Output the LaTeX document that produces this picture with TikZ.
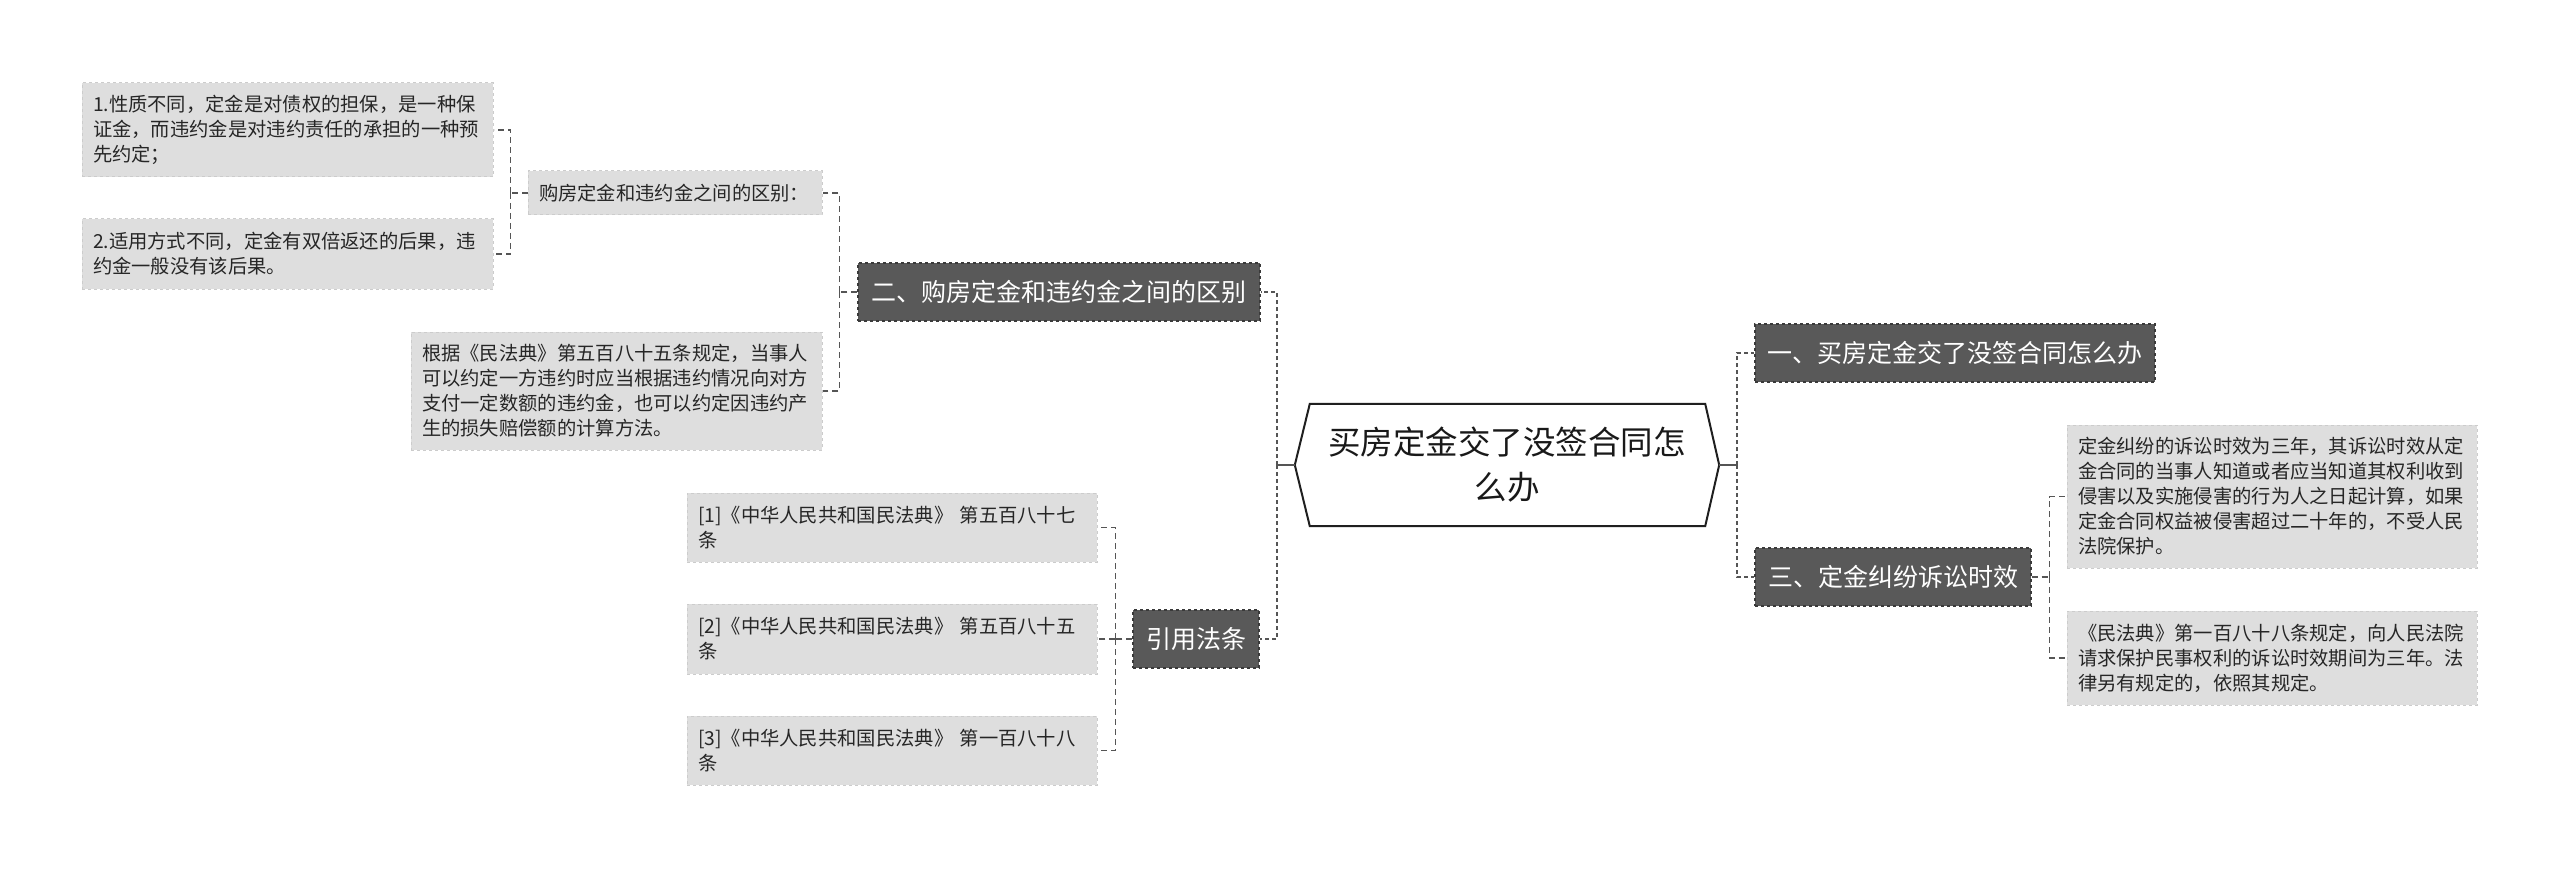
\documentclass[tikz,border=0pt]{standalone}
\usepackage{fontspec}
\setmainfont{Noto Sans CJK SC}
\usetikzlibrary{calc}
\definecolor{darkbox}{HTML}{595959}
\definecolor{darkedge}{HTML}{3A3A3A}
\definecolor{leaffill}{HTML}{DEDEDE}
\definecolor{leafedge}{HTML}{CCCCCC}
\definecolor{conncol}{HTML}{555555}
\definecolor{txt}{HTML}{262626}
\begin{document}
\begin{tikzpicture}[x=1pt,y=-1pt,
  branch/.style={draw=darkedge, dashed, line width=1.2pt, fill=darkbox, text=white,
    font=\fontsize{25}{30}\selectfont, minimum height=58pt, inner sep=0pt},
  leaf/.style={draw=leafedge, dashed, line width=1pt, fill=leaffill, text=txt,
    font=\fontsize{19.3}{25}\selectfont, align=left, inner xsep=11pt, inner ysep=0pt,
    text width=389pt},
  conn/.style={draw=conncol, line width=1.5pt, dash pattern=on 6pt off 4pt},
  mainconn/.style={draw=conncol, line width=2.5pt, dash pattern=on 4pt off 3pt},
  stub/.style={draw=conncol, line width=2.5pt}]
\useasboundingbox[fill=white] (0,0) rectangle (2560,869);

% root
\node[font=\fontsize{32.5}{45}\selectfont, align=center, minimum width=424pt,
  minimum height=122pt, inner sep=0pt, text=black!90] (root) at (1507,465)
  {买房定金交了没签合同怎\\么办};
\draw[line width=2pt, draw=black!88] (root.west) -- ([xshift=15pt]root.north west)
  -- ([xshift=-14pt]root.north east) -- (root.east) -- ([xshift=-14pt]root.south east)
  -- ([xshift=15pt]root.south west) -- cycle;

% branches
\node[branch, minimum width=400pt] (b1) at (1955,353) {一、买房定金交了没签合同怎么办};
\node[branch, minimum width=276pt] (b3) at (1893,577) {三、定金纠纷诉讼时效};
\node[branch, minimum width=402pt] (b2) at (1059,292) {二、购房定金和违约金之间的区别};
\node[branch, minimum width=126pt] (b4) at (1196,639) {引用法条};

% leaves left
\node[leaf, text width=272pt, minimum height=44pt] (s1) at (675,193) {购房定金和违约金之间的区别：};
\node[leaf, minimum height=94pt] (l1) at (287.5,130)
  {1.性质不同，定金是对债权的担保，是一种保\\证金，而违约金是对违约责任的承担的一种预\\先约定；};
\node[leaf, minimum height=70pt] (l2) at (287.5,254)
  {2.适用方式不同，定金有双倍返还的后果，违\\约金一般没有该后果。};
\node[leaf, minimum height=118pt] (l3) at (616.5,391)
  {根据《民法典》第五百八十五条规定，当事人\\可以约定一方违约时应当根据违约情况向对方\\支付一定数额的违约金，也可以约定因违约产\\生的损失赔偿额的计算方法。};
\node[leaf, text width=388pt, minimum height=69pt] (c1) at (892,527.5)
  {[1]《中华人民共和国民法典》 第五百八十七\\条};
\node[leaf, text width=388pt, minimum height=70pt] (c2) at (892,639)
  {[2]《中华人民共和国民法典》 第五百八十五\\条};
\node[leaf, text width=388pt, minimum height=69pt] (c3) at (892,750.5)
  {[3]《中华人民共和国民法典》 第一百八十八\\条};

% leaves right
\node[leaf, text width=388pt, minimum height=143pt] (r1) at (2272,496.5)
  {定金纠纷的诉讼时效为三年，其诉讼时效从定\\金合同的当事人知道或者应当知道其权利收到\\侵害以及实施侵害的行为人之日起计算，如果\\定金合同权益被侵害超过二十年的，不受人民\\法院保护。};
\node[leaf, text width=388pt, minimum height=94pt] (r2) at (2272,658)
  {《民法典》第一百八十八条规定，向人民法院\\请求保护民事权利的诉讼时效期间为三年。法\\律另有规定的，依照其规定。};

% root connectors
\draw[stub] (root.east) -- ++(18,0) coordinate (rhub);
\draw[mainconn] (rhub) |- (b1.west);
\draw[mainconn] (rhub) |- (b3.west);
\draw[stub] (root.west) -- ++(-18,0) coordinate (lhub);
\draw[mainconn] (lhub) |- (b2.east);
\draw[mainconn] (lhub) |- (b4.east);

% level 2 connectors
\draw[conn] (b3.east) -- ++(18,0) coordinate (h3);
\draw[conn] (h3) |- (r1.west);
\draw[conn] (h3) |- (r2.west);

\draw[conn] (b2.west) -- ++(-18,0) coordinate (h2);
\draw[conn] (h2) |- (s1.east);
\draw[conn] (h2) |- (l3.east);

\draw[conn] (s1.west) -- ++(-17,0) coordinate (hs);
\draw[conn] (hs) |- (l1.east);
\draw[conn] (hs) |- (l2.east);

\draw[conn] (b4.west) -- ++(-17,0) coordinate (h4);
\draw[conn] (h4) |- (c1.east);
\draw[conn] (h4) |- (c2.east);
\draw[conn] (h4) |- (c3.east);
\end{tikzpicture}
\end{document}
